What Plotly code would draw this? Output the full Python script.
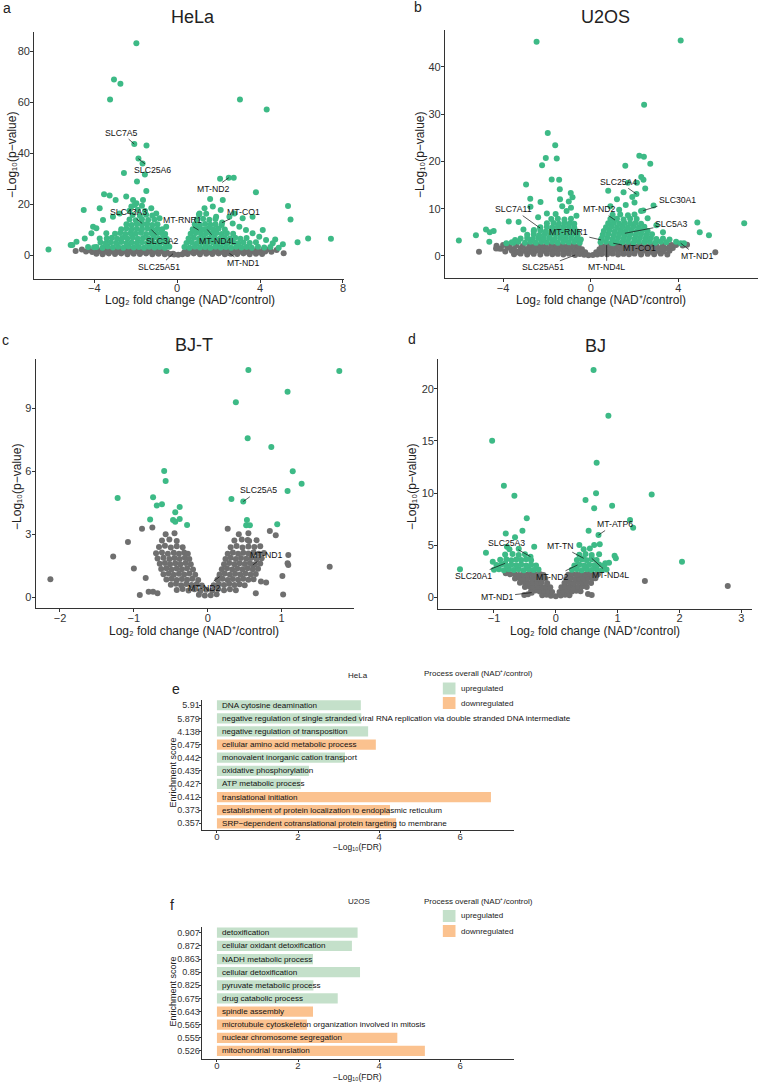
import plotly.graph_objects as go

W, H = 761, 1082
GREEN = "#3dba86"
GREY = "#6f6f6f"
UP_COL = "#c4e0ca"
DOWN_COL = "#fbc28f"
FONT = "Liberation Sans, Arial, sans-serif"
INK = "#222222"

# ---------------- Panel a: HeLa ----------------
ns_a = [
    (-3.9, 0.5), (-3.6, 0.3), (-3.3, 0.6), (-3.0, 0.4), (-2.7, 0.6), (-2.4, 0.3), (-2.1, 0.5), (-1.8, 0.4),
    (-1.5, 0.6), (-1.2, 0.3), (-0.9, 0.5), (-0.6, 0.3), (-0.35, 0.4), (-0.15, 0.2), (0.05, 0.1), (0.25, 0.3),
    (0.5, 0.4), (0.8, 0.6), (1.1, 0.3), (1.4, 0.5), (1.7, 0.4), (2.0, 0.6), (2.3, 0.3), (2.6, 0.5), (2.9, 0.4),
    (3.2, 0.6), (3.5, 0.3), (3.8, 0.5), (4.1, 0.4),
    (-4.4, 1.4), (-4.1, 1.2), (-3.8, 1.5), (-3.5, 1.3), (-3.2, 1.5), (-2.9, 1.2), (-2.6, 1.4), (-2.3, 1.3),
    (-2.0, 1.5), (-1.7, 1.2), (-1.4, 1.4), (-1.1, 1.3), (-0.8, 1.5), (-0.5, 1.1), (0.35, 1.2), (0.65, 1.4),
    (0.95, 1.3), (1.25, 1.5), (1.55, 1.2), (1.85, 1.4), (2.15, 1.3), (2.45, 1.5), (2.75, 1.2), (3.05, 1.4),
    (3.35, 1.3), (3.65, 1.5), (3.95, 1.2), (4.25, 1.4), (4.55, 1.3),
    (-4.6, 2.2), (-4.25, 2.0), (-3.95, 2.3), (-3.65, 2.1), (-3.35, 2.2), (-3.05, 2.0), (-2.75, 2.3), (-2.45, 2.1),
    (-2.15, 2.2), (-1.85, 2.0), (-1.55, 2.3), (-1.25, 2.1), (-0.95, 2.2), (-0.65, 2.0), (0.55, 2.1), (0.85, 2.3),
    (1.15, 2.0), (1.45, 2.2), (1.75, 2.1), (2.05, 2.3), (2.35, 2.0), (2.65, 2.2), (2.95, 2.1), (3.25, 2.3),
    (3.55, 2.0), (3.85, 2.2), (4.15, 2.1), (4.45, 2.3), (4.8, 2.0), (5.14, 0.65), (-4.9, 1.6),
]
sig_a = [
    (-1.97, 83.0), (-3.05, 68.8), (-2.74, 67.2), (-3.24, 61.0), (3.03, 61.0), (4.32, 57.1), (-1.48, 42.9),
    (-1.67, 35.9), (-1.56, 31.6), (-2.57, 32.2), (-1.94, 28.8), (2.07, 29.9), (2.73, 30.3), (3.80, 24.6),
    (5.35, 19.2), (5.47, 13.9), (5.81, 5.0), (6.32, 6.5), (7.42, 6.4), (5.10, 4.2), (4.73, 6.1), (-6.21, 2.2),
    (-5.14, 3.9), (-5.06, 3.9), (-4.51, 17.6), (-3.74, 18.3), (-3.53, 23.8), (-3.26, 23.3), (-2.97, 21.6),
    (-4.30, 3.1), (-4.01, 3.0), (-4.06, 11.1), (-1.49, 25.1), (1.59, 22.0), (1.72, 19.0), (2.10, 17.6),
    (-2.46, 22.9), (-2.13, 21.6), (-1.97, 20.3), (-2.21, 19.0), (-2.78, 16.3), (-3.10, 15.0), (-3.58, 13.7),
    (-3.90, 10.5), (-4.14, 8.5), (-3.42, 8.5), (-3.74, 6.5), (-4.46, 6.5), (-4.86, 5.2), (-1.65, 21.6),
    (-1.25, 18.3), (-1.01, 16.3), (-0.85, 14.4), (-0.53, 11.1), (1.08, 16.3), (1.32, 18.3), (1.88, 15.0),
    (2.52, 15.0), (2.68, 12.4), (3.00, 11.1), (3.32, 9.8), (3.64, 8.5), (3.96, 7.2), (4.29, 5.9), (4.61, 4.6),
    (4.13, 9.8), (2.76, 16.3), (3.16, 14.4), (3.64, 15.0), (2.20, 21.6),
    (-3.9, 3.1), (-3.6, 2.8), (-3.35, 3.3), (-3.1, 2.9), (-2.85, 3.2), (-2.6, 2.8), (-2.35, 3.3), (-2.1, 2.9),
    (-1.85, 3.1), (-1.6, 2.8), (-1.35, 3.2), (-1.1, 2.9), (-0.85, 3.1), (-0.6, 2.8), (-0.38, 3.2),
    (-3.7, 4.9), (-3.45, 4.6), (-3.2, 5.0), (-2.95, 4.7), (-2.7, 5.1), (-2.45, 4.6), (-2.2, 4.9), (-1.95, 4.7),
    (-1.7, 5.0), (-1.45, 4.6), (-1.2, 4.9), (-0.95, 4.7), (-0.7, 5.0), (-0.48, 4.6),
    (-3.4, 6.5), (-3.15, 6.8), (-2.9, 6.4), (-2.65, 6.7), (-2.4, 6.5), (-2.15, 6.9), (-1.9, 6.4), (-1.65, 6.7),
    (-1.4, 6.5), (-1.15, 6.8), (-0.9, 6.4), (-0.68, 6.7), (-0.5, 6.3),
    (-3.0, 8.3), (-2.75, 8.6), (-2.5, 8.2), (-2.25, 8.5), (-2.0, 8.3), (-1.75, 8.7), (-1.5, 8.2), (-1.25, 8.5),
    (-1.0, 8.3), (-0.78, 8.6), (-0.58, 8.2),
    (-2.7, 10.1), (-2.45, 10.4), (-2.2, 10.0), (-1.95, 10.3), (-1.7, 10.1), (-1.45, 10.5), (-1.2, 10.0),
    (-0.95, 10.3), (-0.72, 10.1),
    (-2.45, 12.1), (-2.2, 11.8), (-1.95, 12.3), (-1.7, 11.9), (-1.45, 12.2), (-1.2, 11.8), (-0.95, 12.1),
    (-2.3, 13.9), (-2.0, 13.6), (-1.7, 14.0), (-1.4, 13.7), (-1.1, 13.9),
    (-2.15, 15.7), (-1.8, 15.4), (-1.5, 15.8), (-1.2, 15.5), (-2.3, 17.4), (-1.9, 17.7), (-1.55, 17.3),
    (-2.05, 19.6), (-1.7, 19.3),
    (0.35, 3.1), (0.6, 2.8), (0.85, 3.2), (1.1, 2.9), (1.35, 3.1), (1.6, 2.8), (1.85, 3.2), (2.1, 2.9),
    (2.35, 3.1), (2.6, 2.8), (2.85, 3.2), (3.1, 2.9), (3.35, 3.1), (3.6, 2.8), (3.9, 3.2), (4.2, 2.9),
    (4.5, 3.1), (4.9, 2.8),
    (0.45, 4.7), (0.7, 5.0), (0.95, 4.6), (1.2, 4.9), (1.45, 4.7), (1.7, 5.0), (1.95, 4.6), (2.2, 4.9),
    (2.45, 4.7), (2.7, 5.0), (2.95, 4.6), (3.2, 4.9), (3.5, 4.7), (3.8, 5.0),
    (0.55, 6.5), (0.8, 6.8), (1.05, 6.4), (1.3, 6.7), (1.55, 6.5), (1.8, 6.8), (2.05, 6.4), (2.3, 6.7),
    (2.55, 6.5), (2.8, 6.8), (3.05, 6.4), (3.35, 6.7),
    (0.65, 8.3), (0.9, 8.6), (1.15, 8.2), (1.4, 8.5), (1.65, 8.3), (1.9, 8.6), (2.15, 8.2), (2.4, 8.5), (2.7, 8.3),
    (0.75, 10.1), (1.0, 10.4), (1.25, 10.0), (1.5, 10.3), (1.75, 10.1), (2.0, 10.4), (2.3, 10.0),
    (0.85, 12.1), (1.1, 11.8), (1.35, 12.2), (1.6, 11.9), (1.85, 12.1), (2.15, 11.8),
    (0.95, 13.9), (1.25, 14.2), (1.55, 13.8), (1.85, 14.1), (1.05, 15.9), (1.4, 16.2),
]
genes_a = ["SLC7A5", "SLC25A6", "MT-ND2", "MT-CO1", "SLC43A3", "MT-RNR1", "SLC3A2", "MT-ND4L", "MT-ND1", "SLC25A51"]
genes_a_x = [-2.07, -1.87, 2.49, 2.17, -1.69, 1.03, -1.25, 1.45, 2.52, -0.20]
genes_a_y = [43.5, 37.8, 30.3, 12.7, 12.4, 9.8, 10.0, 10.0, 0.65, 0.5]
genes_a_sig = [True, True, True, True, True, True, True, True, False, False]
label_a_pos = [(-2.70, 48.0), (-1.17, 33.2), (1.73, 25.9), (3.21, 16.7), (-2.36, 16.7), (0.24, 13.6),
               (-0.69, 5.4), (1.93, 5.4), (3.21, -3.3), (-0.88, -4.6)]

# ---------------- Panel b: U2OS ----------------
ns_b = [
    (-3.5, 0.35), (-3.2, 0.5), (-2.9, 0.3), (-2.6, 0.45), (-2.3, 0.3), (-2.0, 0.5), (-1.75, 0.35), (-1.5, 0.45),
    (-1.25, 0.3), (-1.0, 0.5), (-0.75, 0.35), (-0.5, 0.4), (-0.3, 0.25), (-0.1, 0.15), (0.1, 0.2), (0.3, 0.3),
    (0.5, 0.4), (0.75, 0.35), (1.0, 0.5), (1.25, 0.3), (1.5, 0.45), (1.75, 0.35), (2.0, 0.5), (2.3, 0.3),
    (2.6, 0.45), (2.9, 0.35), (3.2, 0.5), (3.5, 0.3),
    (-3.9, 0.95), (-3.6, 1.1), (-3.3, 0.9), (-3.0, 1.05), (-2.75, 0.9), (-2.5, 1.1), (-2.25, 0.95), (-2.0, 1.05),
    (-1.75, 0.9), (-1.5, 1.1), (-1.25, 0.95), (-1.0, 1.05), (-0.75, 0.9), (-0.5, 1.0), (-0.25, 0.8), (0.25, 0.8),
    (0.5, 1.0), (0.75, 0.9), (1.0, 1.05), (1.25, 0.95), (1.5, 1.1), (1.75, 0.9), (2.0, 1.05), (2.25, 0.95),
    (2.5, 1.1), (2.75, 0.9), (3.0, 1.05), (3.3, 0.95), (3.6, 1.1),
    (-4.1, 1.55), (-3.8, 1.7), (-3.5, 1.5), (-3.2, 1.65), (-2.9, 1.5), (-2.65, 1.7), (-2.4, 1.55), (-2.15, 1.65),
    (-1.9, 1.5), (-1.65, 1.7), (-1.4, 1.55), (-1.15, 1.65), (-0.9, 1.5), (-0.65, 1.6), (-0.4, 1.45), (0.4, 1.45),
    (0.65, 1.6), (0.9, 1.5), (1.15, 1.65), (1.4, 1.55), (1.65, 1.7), (1.9, 1.5), (2.15, 1.65), (2.4, 1.55),
    (2.65, 1.7), (2.9, 1.5), (3.15, 1.65), (3.45, 1.55), (3.75, 1.7),
    (-4.3, 2.15), (-4.0, 2.3), (-3.7, 2.1), (-3.4, 2.25), (-3.1, 2.1), (-2.8, 2.3), (-2.55, 2.15), (-2.3, 2.25),
    (-2.05, 2.1), (-1.8, 2.3), (-1.55, 2.15), (-1.3, 2.25), (-1.05, 2.1), (-0.8, 2.2), (-0.55, 2.1), (0.5, 2.1),
    (0.75, 2.2), (1.0, 2.1), (1.25, 2.25), (1.5, 2.15), (1.75, 2.3), (2.0, 2.1), (2.25, 2.25), (2.5, 2.15),
    (2.75, 2.3), (3.0, 2.1), (3.3, 2.25), (3.6, 2.15), (3.9, 2.3), (4.2, 2.2),
    (-5.10, 0.9), (-4.32, 1.6), (-4.20, 1.6), (-3.34, 0.8), (3.28, 1.6), (3.69, 2.3), (5.69, 0.8), (4.4, 2.4),
]
sig_b = [
    (-2.47, 45.3), (4.11, 45.6), (2.44, 32.0), (-1.96, 26.0), (-1.62, 23.4), (-1.55, 20.6), (-2.05, 20.7),
    (-2.22, 19.2), (1.58, 19.1), (2.22, 21.2), (2.43, 21.0), (2.72, 19.5), (2.31, 16.7), (2.41, 16.1),
    (2.49, 14.3), (2.11, 15.5), (-1.78, 16.2), (-1.44, 16.1), (-1.41, 14.1), (-2.95, 15.1), (-2.76, 12.1),
    (-2.29, 11.4), (-2.75, 10.4), (-0.91, 13.3), (-0.83, 12.4), (1.70, 15.5), (2.87, 10.7), (7.01, 6.9),
    (4.87, 7.1), (4.98, 5.0), (5.40, 4.4), (4.26, 2.7), (-6.02, 3.3), (-5.24, 4.4), (-4.78, 5.6),
    (-4.43, 5.3), (-4.61, 5.0), (-3.74, 7.3), (-3.29, 7.2), (-4.63, 3.0), (-3.85, 2.7), (-3.45, 3.4),
    (-3.53, 2.8), (-3.07, 5.6), (-2.59, 5.5),
    (-3.6, 2.9), (-3.3, 3.0), (-3.0, 2.8), (-2.75, 3.0), (-2.5, 2.8), (-2.25, 3.0), (-2.0, 2.9), (-1.75, 3.0),
    (-1.5, 2.8), (-1.25, 3.0), (-1.0, 2.9), (-0.75, 3.0), (-0.5, 2.8),
    (-3.2, 3.7), (-2.9, 3.8), (-2.65, 3.6), (-2.4, 3.8), (-2.15, 3.7), (-1.9, 3.8), (-1.65, 3.6), (-1.4, 3.8),
    (-1.15, 3.7), (-0.9, 3.8), (-0.65, 3.6), (-0.45, 3.5),
    (-2.9, 4.5), (-2.6, 4.6), (-2.35, 4.4), (-2.1, 4.6), (-1.85, 4.5), (-1.6, 4.6), (-1.35, 4.4), (-1.1, 4.6),
    (-0.85, 4.5), (-0.6, 4.4),
    (-2.6, 5.3), (-2.3, 5.4), (-2.05, 5.2), (-1.8, 5.4), (-1.55, 5.3), (-1.3, 5.4), (-1.05, 5.2), (-0.8, 5.4),
    (-0.62, 5.2),
    (-2.3, 6.1), (-2.0, 6.2), (-1.75, 6.0), (-1.5, 6.2), (-1.25, 6.1), (-1.0, 6.2), (-0.75, 6.0),
    (-2.0, 6.9), (-1.7, 7.0), (-1.45, 6.8), (-1.2, 7.0), (-0.95, 6.9), (-0.75, 6.8),
    (-1.8, 7.8), (-1.5, 7.9), (-1.2, 7.7), (-0.9, 7.9),
    (-1.6, 8.9), (-1.1, 9.5), (-0.9, 10.2), (-1.3, 10.5), (-2.0, 9.0), (-2.4, 8.2), (-1.0, 11.5), (-1.4, 12.0),
    (-0.65, 8.5),
    (0.45, 2.9), (0.7, 3.0), (0.95, 2.8), (1.2, 3.0), (1.45, 2.9), (1.7, 3.0), (1.95, 2.8), (2.2, 3.0),
    (2.45, 2.9), (2.7, 3.0), (2.95, 2.8), (3.2, 3.0), (3.45, 2.9),
    (0.5, 3.7), (0.75, 3.8), (1.0, 3.6), (1.25, 3.8), (1.5, 3.7), (1.75, 3.8), (2.0, 3.6), (2.25, 3.8),
    (2.5, 3.7), (2.75, 3.8), (3.0, 3.6), (3.3, 3.7),
    (0.55, 4.5), (0.8, 4.6), (1.05, 4.4), (1.3, 4.6), (1.55, 4.5), (1.8, 4.6), (2.05, 4.4), (2.3, 4.6),
    (2.55, 4.5), (2.8, 4.6),
    (0.6, 5.3), (0.85, 5.4), (1.1, 5.2), (1.35, 5.4), (1.6, 5.3), (1.85, 5.4), (2.1, 5.2), (2.35, 5.4), (2.6, 5.3),
    (0.7, 6.1), (0.95, 6.2), (1.2, 6.0), (1.45, 6.2), (1.7, 6.1), (1.95, 6.2), (2.2, 6.0), (2.45, 6.2),
    (0.8, 6.9), (1.05, 7.0), (1.3, 6.8), (1.55, 7.0), (1.8, 6.9), (2.05, 7.0), (2.3, 6.8),
    (0.9, 7.8), (1.2, 7.9), (1.5, 7.7), (1.8, 7.9), (2.1, 7.8),
    (1.0, 8.7), (1.35, 8.8), (1.7, 8.6), (2.0, 8.8),
    (1.3, 9.8), (0.9, 10.5), (1.6, 10.8), (2.0, 11.3), (1.2, 12.0), (2.6, 8.0), (3.0, 6.5), (3.3, 5.0),
    (3.6, 3.5), (3.9, 3.0), (1.5, 13.5), (0.8, 13.8), (1.9, 12.5), (2.3, 9.5),
]
genes_b = ["SLC25A4", "SLC30A1", "SLC7A11", "MT-ND2", "SLC5A3", "MT-RNR1", "MT-CO1", "MT-ND1", "SLC25A51", "MT-ND4L"]
genes_b_x = [2.09, 2.40, -2.31, 1.11, 1.56, 0.47, 1.03, 4.11, -0.71, 0.73]
genes_b_y = [13.1, 9.6, 5.9, 7.6, 4.8, 3.4, 2.7, 2.7, 0.2, 2.3]
genes_b_sig = [True, True, True, True, True, True, True, True, False, False]
label_b_pos = [(1.29, 15.7), (3.96, 11.8), (-3.52, 9.9), (0.39, 9.9), (3.69, 6.7), (-1.02, 5.0),
               (2.25, 1.6), (4.87, 0.0), (-2.19, -2.4), (0.73, -2.4)]

# ---------------- Panel c: BJ-T ----------------
ns_c = [
    (-0.12, 0.12), (-0.04, 0.08), (0.04, 0.1), (0.12, 0.14),
    (-0.42, 0.35), (-0.34, 0.4), (-0.26, 0.32), (-0.18, 0.38), (-0.1, 0.3), (-0.02, 0.36), (0.06, 0.32),
    (0.14, 0.4), (0.22, 0.33), (0.3, 0.38), (0.38, 0.34),
    (-0.5, 0.6), (-0.43, 0.65), (-0.36, 0.57), (-0.29, 0.63), (-0.22, 0.58), (-0.15, 0.62), (-0.08, 0.56),
    (0.08, 0.57), (0.15, 0.63), (0.22, 0.58), (0.29, 0.64), (0.36, 0.59), (0.43, 0.62), (0.5, 0.57),
    (-0.56, 0.85), (-0.49, 0.88), (-0.42, 0.82), (-0.35, 0.87), (-0.28, 0.83), (-0.21, 0.88), (-0.13, 0.82),
    (0.13, 0.83), (0.2, 0.88), (0.27, 0.82), (0.34, 0.87), (0.41, 0.84), (0.48, 0.88), (0.55, 0.83), (0.62, 0.86),
    (-0.6, 1.1), (-0.53, 1.13), (-0.46, 1.07), (-0.39, 1.12), (-0.32, 1.08), (-0.25, 1.13), (-0.17, 1.07),
    (0.16, 1.08), (0.23, 1.13), (0.3, 1.07), (0.37, 1.12), (0.44, 1.09), (0.51, 1.13), (0.58, 1.08), (0.65, 1.11),
    (-0.63, 1.35), (-0.56, 1.38), (-0.49, 1.32), (-0.42, 1.37), (-0.35, 1.33), (-0.28, 1.38), (-0.2, 1.32),
    (0.19, 1.33), (0.26, 1.38), (0.33, 1.32), (0.4, 1.37), (0.47, 1.34), (0.54, 1.38), (0.61, 1.33), (0.68, 1.36),
    (-0.65, 1.6), (-0.58, 1.63), (-0.51, 1.57), (-0.44, 1.62), (-0.37, 1.58), (-0.3, 1.63), (-0.23, 1.57),
    (0.22, 1.58), (0.29, 1.63), (0.36, 1.57), (0.43, 1.62), (0.5, 1.59), (0.57, 1.63), (0.64, 1.58), (0.71, 1.61),
    (-0.68, 1.85), (-0.6, 1.88), (-0.52, 1.82), (-0.45, 1.87), (-0.38, 1.83), (-0.31, 1.88), (-0.25, 1.82),
    (0.24, 1.83), (0.31, 1.88), (0.38, 1.82), (0.45, 1.87), (0.52, 1.84), (0.59, 1.88), (0.66, 1.83), (0.73, 1.86),
    (-0.7, 2.1), (-0.62, 2.13), (-0.54, 2.07), (-0.46, 2.12), (-0.39, 2.08), (-0.32, 2.13), (-0.27, 2.07),
    (0.27, 2.08), (0.34, 2.13), (0.41, 2.07), (0.48, 2.12), (0.55, 2.09), (0.62, 2.13), (0.69, 2.08), (0.76, 2.11),
    (-0.66, 2.4), (-0.58, 2.45), (-0.5, 2.37), (-0.42, 2.43), (-0.34, 2.38), (0.31, 2.38), (0.39, 2.44),
    (0.47, 2.37), (0.55, 2.42), (0.63, 2.39), (0.71, 2.43),
    (-0.62, 2.7), (-0.52, 2.75), (-0.42, 2.68), (0.36, 2.7), (0.46, 2.75), (0.56, 2.68), (0.66, 2.72),
    (-0.57, 3.0), (-0.45, 3.05), (0.42, 3.0), (0.55, 3.05),
    (-2.13, 0.86), (-1.28, 1.94), (-1.08, 2.63), (-1.0, 1.37), (-0.89, 3.27), (-0.75, 3.32), (-0.84, 0.92),
    (-0.92, 0.11), (-0.80, 0.27), (-0.74, 0.27), (-0.68, 0.19), (1.65, 1.46), (1.08, 1.62), (1.01, 1.02),
    (1.02, 0.13), (0.65, 0.19), (0.84, 3.16), (0.92, 2.95), (0.79, 0.70), (0.72, 0.75), (1.09, 2.02),
    (1.09, 1.54), (0.27, 3.27), (0.54, 2.73),
]
sig_c = [
    (-0.56, 10.78), (0.55, 10.83), (1.78, 10.78), (1.08, 9.79), (0.38, 9.29), (0.54, 7.57), (0.86, 7.16),
    (1.15, 6.0), (1.27, 5.41), (1.08, 5.06), (0.32, 4.68), (0.53, 3.68), (0.52, 3.43), (0.57, 3.43),
    (0.94, 3.48), (-0.59, 6.02), (-0.57, 5.54), (-1.22, 4.73), (-0.74, 4.76), (-0.69, 4.37), (-0.62, 4.43),
    (-0.38, 4.30), (-0.44, 4.05), (-0.38, 3.73), (-0.78, 3.70), (-0.47, 3.68), (-0.44, 3.60), (-0.28, 3.44),
]
genes_c = ["SLC25A5", "MT-ND1", "MT-ND2"]
genes_c_x = [0.48, 0.61, 0.16]
genes_c_y = [4.56, 1.54, 0.98]
genes_c_sig = [True, False, False]
label_c_pos = [(0.69, 5.10), (0.79, 2.02), (-0.04, 0.46)]

# ---------------- Panel d: BJ ----------------
ns_d = [
    (-0.22, 0.2), (-0.15, 0.25), (-0.08, 0.15), (0.0, 0.1), (0.08, 0.18), (0.15, 0.24), (0.22, 0.2),
    (-0.4, 0.6), (-0.33, 0.65), (-0.26, 0.55), (-0.19, 0.62), (-0.12, 0.57), (-0.06, 0.5), (0.06, 0.52),
    (0.12, 0.58), (0.19, 0.63), (0.26, 0.56), (0.33, 0.64), (0.4, 0.59),
    (-0.5, 1.0), (-0.43, 1.05), (-0.36, 0.95), (-0.29, 1.02), (-0.22, 0.97), (-0.15, 1.04), (-0.09, 0.96),
    (0.09, 0.97), (0.15, 1.03), (0.22, 0.96), (0.29, 1.04), (0.36, 0.99), (0.43, 1.05), (0.5, 0.98),
    (-0.58, 1.4), (-0.51, 1.45), (-0.44, 1.35), (-0.37, 1.42), (-0.3, 1.37), (-0.23, 1.44), (-0.14, 1.36),
    (0.14, 1.37), (0.22, 1.43), (0.29, 1.36), (0.36, 1.44), (0.43, 1.39), (0.5, 1.45), (0.57, 1.38),
    (-0.66, 1.8), (-0.59, 1.85), (-0.52, 1.75), (-0.45, 1.82), (-0.38, 1.77), (-0.31, 1.84), (-0.24, 1.76),
    (-0.17, 1.8), (0.17, 1.78), (0.24, 1.84), (0.31, 1.76), (0.38, 1.83), (0.45, 1.78), (0.52, 1.85),
    (0.59, 1.77), (0.64, 1.82),
    (-0.74, 2.2), (-0.67, 2.25), (-0.6, 2.15), (-0.53, 2.22), (-0.46, 2.17), (-0.39, 2.24), (-0.32, 2.16),
    (-0.25, 2.22), (-0.2, 2.15), (0.2, 2.16), (0.27, 2.23), (0.34, 2.17), (0.41, 2.24), (0.48, 2.18),
    (0.55, 2.25), (0.62, 2.17), (0.68, 2.22),
    (1.44, 1.57), (2.78, 1.09), (-0.51, 0.22), (-0.45, 0.30), (0.52, 0.32), (0.58, 0.22), (-0.81, 2.3),
]
sig_d = [
    (0.61, 21.8), (0.85, 17.4), (-1.03, 15.0), (0.66, 12.9), (-0.84, 10.7), (-0.67, 9.74), (0.65, 9.97),
    (1.55, 9.87), (0.48, 9.33), (0.62, 8.53), (0.91, 8.79), (-0.47, 7.57), (1.20, 7.41), (1.25, 6.68),
    (-0.81, 6.13), (-0.54, 6.39), (0.53, 6.39), (2.04, 3.42), (-1.55, 2.68), (-1.13, 4.28), (-1.02, 3.42),
    (-0.79, 4.86), (-0.66, 5.75), (-0.35, 4.86), (0.38, 5.02), (0.62, 5.02), (0.71, 5.08), (0.95, 3.99),
    (0.97, 3.74), (0.80, 3.26), (0.86, 3.32),
    (-1.0, 2.65), (-0.92, 2.7), (-0.84, 2.6), (-0.76, 2.68), (-0.68, 2.62), (-0.6, 2.7), (-0.52, 2.6),
    (-0.44, 2.68), (-0.36, 2.62), (-0.28, 2.66), (0.26, 2.64), (0.34, 2.7), (0.42, 2.6), (0.5, 2.68),
    (0.58, 2.62), (0.66, 2.7), (0.74, 2.6), (0.82, 2.66),
    (-0.96, 3.1), (-0.88, 3.15), (-0.8, 3.05), (-0.72, 3.12), (-0.64, 3.07), (-0.56, 3.14), (-0.48, 3.06),
    (-0.4, 3.12), (-0.32, 3.05), (0.3, 3.06), (0.38, 3.12), (0.46, 3.05), (0.54, 3.13), (0.62, 3.07),
    (0.7, 3.14), (0.78, 3.06),
    (-0.9, 3.6), (-0.8, 3.65), (-0.72, 3.55), (-0.64, 3.62), (-0.56, 3.57), (-0.48, 3.64), (-0.4, 3.56),
    (0.34, 3.57), (0.42, 3.63), (0.5, 3.56), (0.58, 3.64), (0.66, 3.58),
    (-0.82, 4.1), (-0.7, 4.15), (-0.6, 4.05), (-0.5, 4.12), (0.38, 4.08), (0.48, 4.15), (0.58, 4.06),
    (0.7, 4.12), (-0.75, 4.6), (-0.6, 4.65), (0.45, 4.6), (0.55, 4.68),
]
genes_d = ["MT-ATP6", "SLC25A3", "MT-TN", "SLC20A1", "MT-ND2", "MT-ND4L", "MT-ND1"]
genes_d_x = [0.69, -0.41, 0.45, -0.82, 0.35, 0.58, -0.39]
genes_d_y = [5.97, 3.90, 3.74, 3.26, 3.10, 3.74, 0.45]
genes_d_sig = [True, True, True, True, True, True, False]
label_d_pos = [(0.95, 7.03), (-0.79, 5.18), (0.07, 4.95), (-1.33, 2.04), (-0.06, 1.92), (0.88, 2.14),
               (-0.95, 0.06)]

# ---------------- Panel e: HeLa GO enrichment ----------------
e_scores = ["5.91", "5.879", "4.138", "0.475", "0.442", "0.435", "0.427", "0.412", "0.373", "0.357"]
e_terms = [
    "DNA cytosine deamination",
    "negative regulation of single stranded viral RNA replication via double stranded DNA intermediate",
    "negative regulation of transposition",
    "cellular amino acid metabolic process",
    "monovalent inorganic cation transport",
    "oxidative phosphorylation",
    "ATP metabolic process",
    "translational initiation",
    "establishment of protein localization to endoplasmic reticulum",
    "SRP\u2212dependent cotranslational protein targeting to membrane",
]
e_fdr = [3.55, 3.56, 3.73, 3.92, 3.16, 2.27, 2.07, 6.76, 4.27, 4.42]
e_dir = ["up", "up", "up", "down", "up", "up", "up", "down", "down", "down"]

# ---------------- Panel f: U2OS GO enrichment ----------------
f_scores = ["0.907", "0.872", "0.863", "0.85", "0.825", "0.675", "0.643", "0.565", "0.555", "0.526"]
f_terms = [
    "detoxification",
    "cellular oxidant detoxification",
    "NADH metabolic process",
    "cellular detoxification",
    "pyruvate metabolic process",
    "drug catabolic process",
    "spindle assembly",
    "microtubule cytoskeleton organization involved in mitosis",
    "nuclear chromosome segregation",
    "mitochondrial translation",
]
f_fdr = [3.47, 3.33, 2.37, 3.53, 2.38, 2.98, 2.37, 2.22, 4.45, 5.13]
f_dir = ["up", "up", "up", "up", "up", "up", "down", "down", "down", "down"]

XT_VOLC = "Log\u2082 fold change (NAD\u207a/control)"
YT_VOLC = "\u2212Log\u2081\u2080(p\u2212value)"
XT_BAR = "\u2212Log\u2081\u2080(FDR)"


def px(x):
    return x / W


def py(y):
    return 1 - y / H


fig = go.Figure()
annotations = []
shapes = []
MS = 6

panels = [
    dict(ns=ns_a, sig=sig_a, gn=genes_a, gx=genes_a_x, gy=genes_a_y, gs=genes_a_sig, lp=label_a_pos,
         ax="x", ay="y"),
    dict(ns=ns_b, sig=sig_b, gn=genes_b, gx=genes_b_x, gy=genes_b_y, gs=genes_b_sig, lp=label_b_pos,
         ax="x2", ay="y2"),
    dict(ns=ns_c, sig=sig_c, gn=genes_c, gx=genes_c_x, gy=genes_c_y, gs=genes_c_sig, lp=label_c_pos,
         ax="x3", ay="y3"),
    dict(ns=ns_d, sig=sig_d, gn=genes_d, gx=genes_d_x, gy=genes_d_y, gs=genes_d_sig, lp=label_d_pos,
         ax="x4", ay="y4"),
]

for p in panels:
    ns_x = [v[0] for v in p["ns"]] + [x for x, s in zip(p["gx"], p["gs"]) if not s]
    ns_y = [v[1] for v in p["ns"]] + [y for y, s in zip(p["gy"], p["gs"]) if not s]
    sg_x = [v[0] for v in p["sig"]] + [x for x, s in zip(p["gx"], p["gs"]) if s]
    sg_y = [v[1] for v in p["sig"]] + [y for y, s in zip(p["gy"], p["gs"]) if s]
    fig.add_trace(go.Scatter(x=ns_x, y=ns_y, mode="markers", xaxis=p["ax"], yaxis=p["ay"],
                             marker=dict(size=MS, color=GREY, line=dict(width=0)), showlegend=False,
                             cliponaxis=False))
    fig.add_trace(go.Scatter(x=sg_x, y=sg_y, mode="markers", xaxis=p["ax"], yaxis=p["ay"],
                             marker=dict(size=MS, color=GREEN, line=dict(width=0)), showlegend=False,
                             cliponaxis=False))
    for name, gx, gy, (tx, ty) in zip(p["gn"], p["gx"], p["gy"], p["lp"]):
        annotations.append(dict(x=gx, y=gy, ax=tx, ay=ty, xref=p["ax"], yref=p["ay"],
                                axref=p["ax"], ayref=p["ay"], text=name, showarrow=True,
                                arrowhead=0, arrowwidth=0.7, arrowcolor="#111111", standoff=0,
                                startstandoff=0, font=dict(size=8.7, color="#111111", family=FONT)))

# Bars
for scores, terms, fdr, dirs, xa, ya in [(e_scores, e_terms, e_fdr, e_dir, "x5", "y5"),
                                          (f_scores, f_terms, f_fdr, f_dir, "x6", "y6")]:
    cols = [UP_COL if d == "up" else DOWN_COL for d in dirs]
    fig.add_trace(go.Bar(x=fdr, y=scores, orientation="h", xaxis=xa, yaxis=ya, width=0.78,
                         marker=dict(color=cols, line=dict(width=0)), showlegend=False))
    for i, t in enumerate(terms):
        annotations.append(dict(x=0.07, y=i, xref=xa, yref=ya, text=t, showarrow=False, xanchor="left",
                                yanchor="middle", font=dict(size=8.1, color="#111111", family=FONT)))

axis_common = dict(showgrid=False, zeroline=False, showline=True, linecolor="#333333", linewidth=1,
                   ticks="outside", ticklen=3, tickwidth=1, tickcolor="#333333",
                   tickfont=dict(size=11, color="#333333", family=FONT))
vx = {**axis_common, "ticklabelstandoff": -4}
vy = {**axis_common, "ticklabelstandoff": -2}
bar_y_common = {**axis_common, "tickfont": dict(size=9, color="#333333", family=FONT), "ticklen": 2,
                "ticklabelstandoff": -2}
bar_x_common = {**axis_common, "tickfont": dict(size=9.5, color="#333333", family=FONT), "ticklen": 2,
                "ticklabelstandoff": -4}

layout_axes = {
    "xaxis": dict(domain=[px(34.3), px(345.3)], range=[-6.90, 8.07], tickvals=[-4, 0, 4, 8], anchor="y", **vx),
    "yaxis": dict(domain=[py(279), py(32)], range=[-9.41, 87.45], tickvals=[0, 20, 40, 60, 80], anchor="x",
                  **vy),
    "xaxis2": dict(domain=[px(446), px(760)], range=[-6.66, 7.64], tickvals=[-4, 0, 4], anchor="y2", **vx),
    "yaxis2": dict(domain=[py(278.3), py(30)], range=[-4.72, 47.8], tickvals=[0, 10, 20, 30, 40], anchor="x2",
                   **vy),
    "xaxis3": dict(domain=[px(35.7), px(355)], range=[-2.33, 1.98], tickvals=[-2, -1, 0, 1], anchor="y3", **vx),
    "yaxis3": dict(domain=[py(608.3), py(359)], range=[-0.524, 11.35], tickvals=[0, 3, 6, 9], anchor="x3",
                   **vy),
    "xaxis4": dict(domain=[px(439.3), px(754.3)], range=[-1.903, 3.177], tickvals=[-1, 0, 1, 2, 3],
                   anchor="y4", **vx),
    "yaxis4": dict(domain=[py(609), py(359)], range=[-1.12, 22.85], tickvals=[0, 5, 10, 15, 20], anchor="x4",
                   **vy),
    "xaxis5": dict(domain=[px(203), px(515)], range=[-0.357, 7.32], tickvals=[0, 2, 4, 6], anchor="y5",
                   **bar_x_common),
    "yaxis5": dict(domain=[py(830), py(700)], range=[9.51, -0.40], type="category",
                   categoryorder="array", categoryarray=e_scores, anchor="x5", **bar_y_common),
    "xaxis6": dict(domain=[px(203), px(515)], range=[-0.357, 7.32], tickvals=[0, 2, 4, 6], anchor="y6",
                   **bar_x_common),
    "yaxis6": dict(domain=[py(1059), py(926.7)], range=[9.61, -0.46], type="category",
                   categoryorder="array", categoryarray=f_scores, anchor="x6", **bar_y_common),
}


def txt(x, y, s, size, angle=0, anchor="center", color=INK):
    annotations.append(dict(x=px(x), y=py(y), xref="paper", yref="paper", text=s, showarrow=False,
                            xanchor=anchor, yanchor="middle", textangle=angle,
                            font=dict(size=size, color=color, family=FONT)))


# panel letters
txt(7, 8, "a", 14)
txt(419, 7, "b", 14)
txt(6, 340, "c", 14)
txt(413, 339, "d", 14)
txt(176, 689, "e", 14)
txt(172, 905, "f", 14)

# volcano titles
txt(194, 17, "HeLa", 18)
txt(607, 17, "U2OS", 18)
txt(195, 345, "BJ-T", 18)
txt(597, 346, "BJ", 18)

# axis titles volcanoes
txt(190, 299.5, XT_VOLC, 12)
txt(603, 299.5, XT_VOLC, 12)
txt(195, 631, XT_VOLC, 12)
txt(597, 631, XT_VOLC, 12)
txt(12, 155, YT_VOLC, 12, angle=-90)
txt(421, 155, YT_VOLC, 12, angle=-90)
txt(17, 487, YT_VOLC, 12, angle=-90)
txt(413, 487, YT_VOLC, 12, angle=-90)

# bar chart titles / axis titles
txt(359, 675, "HeLa", 8)
txt(360, 901, "U2OS", 8)
txt(173, 773, "Enrichment score", 9, angle=-90)
txt(173, 992, "Enrichment score", 9, angle=-90)
txt(358, 847, XT_BAR, 8.5)
txt(358, 1076.5, XT_BAR, 8.5)

# legends (process overall)
for ty, y_up, y_dn in [(673, 688.5, 703), (901, 916, 931)]:
    txt(423, ty, "Process overall (NAD\u207a/control)", 8, anchor="left")
    shapes.append(dict(type="rect", xref="paper", yref="paper", x0=px(444), x1=px(456.7),
                       y0=py(y_up + 6), y1=py(y_up - 6), fillcolor=UP_COL, line=dict(width=0)))
    shapes.append(dict(type="rect", xref="paper", yref="paper", x0=px(444), x1=px(456.7),
                       y0=py(y_dn + 6), y1=py(y_dn - 6), fillcolor=DOWN_COL, line=dict(width=0)))
    txt(460, y_up, "upregulated", 8, anchor="left")
    txt(460, y_dn, "downregulated", 8, anchor="left")

fig.update_layout(
    width=W, height=H, margin=dict(l=0, r=0, t=0, b=0),
    paper_bgcolor="white", plot_bgcolor="white",
    font=dict(family=FONT, color=INK),
    annotations=annotations, shapes=shapes, showlegend=False, bargap=0.2,
    **layout_axes,
)

fig.write_html("out.html", config={"displayModeBar": False},
               post_script="document.body.style.margin='0';document.body.style.padding='0';")
